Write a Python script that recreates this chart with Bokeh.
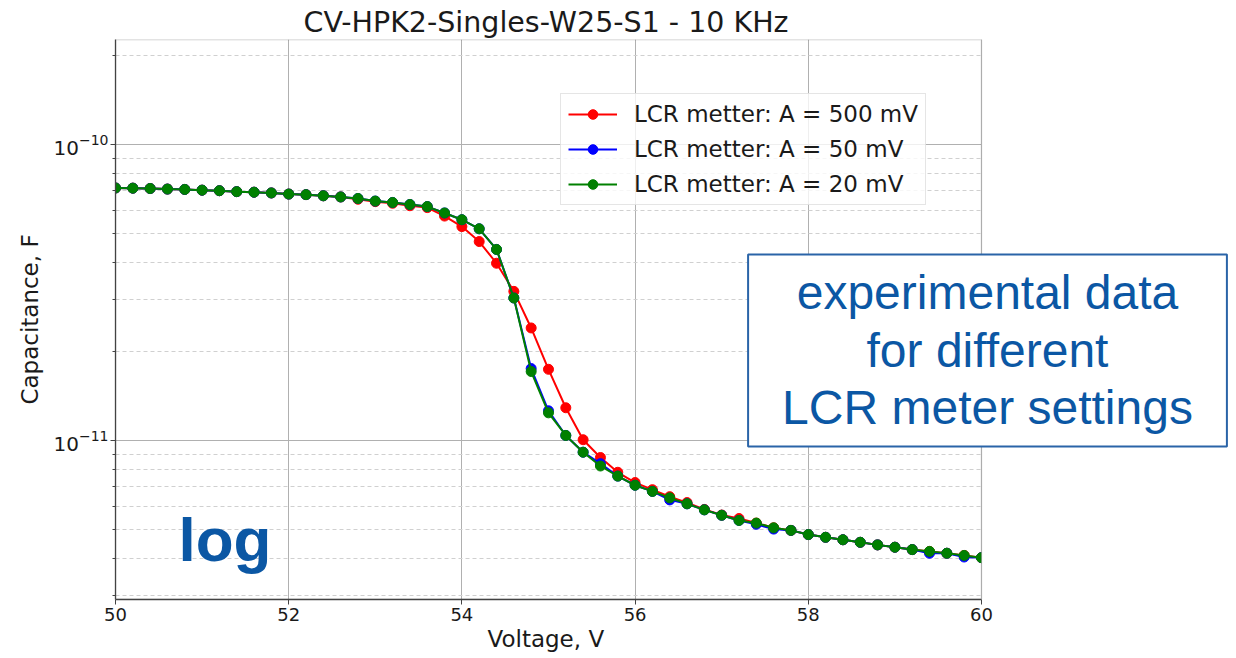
from bokeh.plotting import figure
from bokeh.models import Range1d, FixedTicker, Legend, LegendItem, Label, BoxAnnotation, Title
from bokeh.embed import file_html
from bokeh.resources import INLINE

TITLE = "CV-HPK2-Singles-W25-S1 - 10 KHz"
X_LABEL = "Voltage, V"
Y_LABEL = "Capacitance, F"

voltage = [50.0, 50.2, 50.4, 50.6, 50.8, 51.0, 51.2, 51.4, 51.6, 51.8,
           52.0, 52.2, 52.4, 52.6, 52.8, 53.0, 53.2, 53.4, 53.6, 53.8,
           54.0, 54.2, 54.4, 54.6, 54.8, 55.0, 55.2, 55.4, 55.6, 55.8,
           56.0, 56.2, 56.4, 56.6, 56.8, 57.0, 57.2, 57.4, 57.6, 57.8,
           58.0, 58.2, 58.4, 58.6, 58.8, 59.0, 59.2, 59.4, 59.6, 59.8, 60.0]

# capacitance in units of 1e-11 F
cap_500mV = [7.13, 7.12, 7.10, 7.07, 7.05, 7.01, 6.98, 6.93, 6.90, 6.86,
             6.80, 6.77, 6.71, 6.65, 6.53, 6.41, 6.33, 6.21, 6.12, 5.73,
             5.28, 4.70, 3.97, 3.19, 2.40, 1.74, 1.29, 1.006, 0.876, 0.781,
             0.721, 0.682, 0.646, 0.617, 0.585, 0.560, 0.545, 0.526, 0.507, 0.497,
             0.481, 0.471, 0.462, 0.453, 0.444, 0.436, 0.428, 0.422, 0.416, 0.409, 0.402]

cap_50mV = [7.13, 7.12, 7.10, 7.07, 7.05, 7.01, 6.98, 6.93, 6.90, 6.86,
            6.80, 6.77, 6.71, 6.65, 6.57, 6.44, 6.37, 6.27, 6.17, 5.87,
            5.57, 5.19, 4.42, 3.03, 1.75, 1.26, 1.04, 0.913, 0.835, 0.758,
            0.706, 0.673, 0.630, 0.611, 0.583, 0.559, 0.537, 0.521, 0.502, 0.497,
            0.481, 0.471, 0.462, 0.453, 0.444, 0.436, 0.428, 0.416, 0.416, 0.404, 0.402]

cap_20mV = [7.13, 7.12, 7.10, 7.07, 7.05, 7.01, 6.98, 6.93, 6.90, 6.86,
            6.80, 6.77, 6.71, 6.65, 6.57, 6.44, 6.37, 6.27, 6.17, 5.87,
            5.57, 5.19, 4.42, 3.03, 1.71, 1.24, 1.04, 0.913, 0.820, 0.758,
            0.706, 0.673, 0.640, 0.611, 0.583, 0.559, 0.537, 0.526, 0.507, 0.497,
            0.481, 0.471, 0.462, 0.453, 0.444, 0.436, 0.428, 0.422, 0.416, 0.409, 0.402]

series_labels = ["LCR metter: A = 500 mV", "LCR metter: A = 50 mV", "LCR metter: A = 20 mV"]
series_colors = ["#ff0000", "#0000ff", "#008000"]

x_ticks = [50, 52, 54, 56, 58, 60]
y_major_ticks = [1e-11, 1e-10]
y_minor_ticks = [3e-12, 4e-12, 5e-12, 6e-12, 7e-12, 8e-12, 9e-12,
                 2e-11, 3e-11, 4e-11, 5e-11, 6e-11, 7e-11, 8e-11, 9e-11, 2e-10]

X_MIN, X_MAX = 50, 60
# the frame is widened to the right so the note box can overhang the axes;
# the region beyond X_MAX is blanked out
X_VIEW_END = 62.945
Y_MIN, Y_MAX = 2.903e-12, 2.263e-10

FONT = "DejaVu Sans"
BLUE = "#0b57a4"
SPINE = "#444444"
TXT = "#1a1a1a"

p = figure(width=1236, height=658, y_axis_type="log",
           x_range=Range1d(X_MIN, X_VIEW_END), y_range=Range1d(Y_MIN, Y_MAX),
           output_backend="svg", toolbar_location=None, title=TITLE,
           min_border_left=115, min_border_right=0,
           min_border_top=39, min_border_bottom=59)

p.background_fill_color = "white"
p.border_fill_color = "white"
p.outline_line_color = None

p.title.text_font = FONT
p.title.text_font_size = "28.5px"
p.title.text_font_style = "normal"
p.title.text_color = TXT
p.title.align = "left"
p.title.offset = 188
p.title.standoff = 2

xt = FixedTicker(ticks=x_ticks)
yt = FixedTicker(ticks=y_major_ticks, minor_ticks=y_minor_ticks)
p.xaxis.ticker = xt
p.yaxis.ticker = yt
p.xgrid.ticker = xt
p.ygrid.ticker = yt
p.xaxis.bounds = (X_MIN, X_MAX)

for ax in (p.xaxis[0], p.yaxis[0]):
    ax.major_label_text_font = FONT
    ax.major_label_text_font_size = "18px"
    ax.major_label_text_color = TXT
    ax.axis_label_text_font = FONT
    ax.axis_label_text_font_size = "23px"
    ax.axis_label_text_font_style = "normal"
    ax.axis_label_text_color = TXT
    ax.axis_line_color = SPINE
    ax.axis_line_width = 1.3
    ax.major_tick_line_color = SPINE
    ax.minor_tick_line_color = SPINE
    ax.major_tick_in = 0
    ax.major_tick_out = 5
    ax.minor_tick_in = 0
    ax.minor_tick_out = 3
    ax.major_label_standoff = 3

p.yaxis.major_label_text_font_size = "20px"
p.yaxis.major_label_standoff = 2
p.yaxis.axis_label = Y_LABEL
p.yaxis.axis_label_standoff = 8

# x-axis label placed as a title below the axis, centred under the 50-60 span
p.add_layout(Title(text=X_LABEL, text_font=FONT, text_font_size="23px",
                   text_font_style="normal", text_color=TXT,
                   align="left", offset=372, standoff=0), "below")

p.xgrid.grid_line_color = "#b0b0b0"
p.ygrid.grid_line_color = "#b0b0b0"
p.ygrid.minor_grid_line_color = "#d0d0d0"
p.ygrid.minor_grid_line_dash = "4 3"

items = []
for vals, lab, col in zip([cap_500mV, cap_50mV, cap_20mV], series_labels, series_colors):
    ys = [v * 1e-11 for v in vals]
    rl = p.line(voltage, ys, line_color=col, line_width=2)
    rs = p.scatter(voltage, ys, size=10, fill_color=col, line_color=col)
    items.append(LegendItem(label=lab, renderers=[rl, rs]))

# blank the area right of the axes and draw the axes box
p.add_layout(BoxAnnotation(left=X_MAX, fill_color="white", fill_alpha=1.0,
                           line_color=None))
p.add_layout(BoxAnnotation(left=X_MIN, right=X_MAX, fill_alpha=0.0,
                           line_color=SPINE, line_width=1.3))

legend = Legend(items=items, location=(445, 394), margin=0,
                label_text_font=FONT, label_text_font_size="23px",
                label_text_color=TXT,
                glyph_width=49, glyph_height=24, label_height=24,
                label_standoff=17, spacing=9, padding=7,
                border_line_color="#cccccc", border_line_width=1,
                background_fill_color="white", background_fill_alpha=0.8)
p.add_layout(legend, "center")

box = Label(x=872, y=249, x_units="screen", y_units="screen",
            text="experimental data\nfor different\nLCR meter settings",
            text_align="center", text_baseline="middle",
            text_font="Liberation Sans", text_font_size="48px",
            text_color=BLUE, text_line_height=1.085,
            border_line_color="#2a64a8", border_line_width=2,
            background_fill_color="white",
            padding=dict(left=34, right=34, top=12, bottom=12))
p.add_layout(box)

log_label = Label(x=63, y=60, x_units="screen", y_units="screen",
                  text="log", text_font="Liberation Sans",
                  text_font_style="bold", text_font_size="62px",
                  text_color=BLUE, text_baseline="alphabetic")
p.add_layout(log_label)

open("out.html", "w").write(file_html(p, INLINE))
